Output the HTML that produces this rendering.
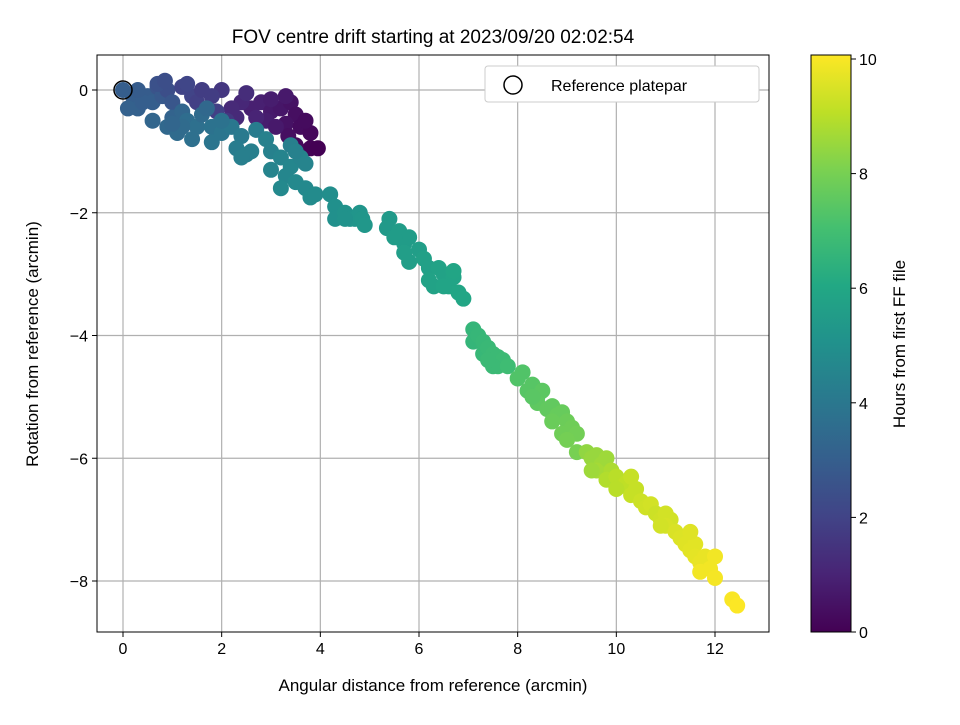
<!DOCTYPE html>
<html><head><meta charset="utf-8"><style>
body{margin:0;background:#fff;}
svg text{font-family:"Liberation Sans","DejaVu Sans",sans-serif;fill:#000;}
</style></head><body>
<svg id="chart" width="960" height="720" viewBox="0 0 960 720" xmlns="http://www.w3.org/2000/svg">
<defs><linearGradient id="vir" x1="0" y1="1" x2="0" y2="0"></linearGradient></defs>
<g id="grid"></g><g id="pts"></g><g id="axes"></g>
</svg>
<script>
const xTicks=[0,2,4,6,8,10,12];
const yTicks=[0,-2,-4,-6,-8];
const cbTicks=[0,2,4,6,8,10];
const ptX=[2.6,2.8,3.0,3.2,3.4,3.5,3.3,3.6,3.8,3.8,3.95,3.35,2.4,2.2,2.9,2.7,3.1,3.3,2.5,2.0,3.0,3.5,2.3,3.7,
0.0,0.2,0.3,0.5,0.6,0.7,0.8,0.9,0.7,0.4,1.0,1.2,1.4,1.5,1.3,1.6,1.8,1.9,2.1,1.0,0.1,0.3,0.85,1.2,
0.6,0.9,1.1,1.3,1.5,1.6,1.8,1.8,2.0,2.2,2.4,2.3,2.5,2.6,1.4,1.2,1.7,2.0,1.0,2.7,2.9,2.4,
3.0,3.2,3.4,3.3,3.6,3.5,3.2,3.7,3.8,3.9,3.0,3.4,3.7,3.5,
4.2,4.3,4.3,4.5,4.6,4.7,4.8,4.85,4.9,4.5,
5.4,5.35,5.6,5.7,5.8,5.7,5.8,6.0,6.1,6.2,6.2,6.4,6.5,6.6,6.7,6.8,6.9,6.3,5.5,6.5,6.7,
7.1,7.1,7.2,7.3,7.3,7.4,7.5,7.6,7.6,7.7,7.5,7.8,7.4,
8.0,8.1,8.2,8.3,8.4,8.5,8.4,8.6,8.7,8.8,8.9,8.7,9.0,9.1,8.9,9.2,9.0,9.2,8.3,
9.4,9.5,9.6,9.7,9.6,9.8,9.9,9.8,10.0,10.1,10.2,10.3,10.4,10.5,10.6,10.7,9.5,10.0,10.3,
10.8,10.9,11.0,11.1,11.0,11.2,10.9,11.3,11.4,11.5,11.6,11.6,11.7,11.8,11.7,11.9,12.0,12.0,12.35,12.45,11.5];
const ptY=[-0.3,-0.2,-0.35,-0.3,-0.2,-0.4,-0.55,-0.6,-0.7,-0.95,-0.95,-0.75,-0.2,-0.3,-0.5,-0.45,-0.6,-0.1,-0.05,0.0,-0.15,-0.9,-0.45,-0.5,
0.0,-0.1,-0.3,-0.1,-0.2,0.05,-0.1,0.0,0.1,-0.2,-0.2,0.05,-0.1,-0.2,0.1,0.0,-0.1,-0.35,-0.5,-0.45,-0.3,0.0,0.15,-0.35,
-0.5,-0.6,-0.7,-0.5,-0.6,-0.4,-0.6,-0.85,-0.7,-0.6,-0.75,-0.95,-1.05,-1.0,-0.8,-0.6,-0.3,-0.5,-0.55,-0.65,-0.8,-1.1,
-1.0,-1.1,-1.25,-1.4,-1.1,-1.5,-1.6,-1.6,-1.75,-1.7,-1.3,-0.9,-1.2,-1.0,
-1.7,-1.9,-2.1,-2.0,-2.1,-2.1,-2.0,-2.1,-2.2,-2.1,
-2.1,-2.25,-2.3,-2.5,-2.4,-2.65,-2.8,-2.6,-2.75,-2.9,-3.1,-2.9,-3.0,-3.2,-3.05,-3.3,-3.4,-3.2,-2.4,-3.2,-2.95,
-3.9,-4.1,-4.0,-4.1,-4.3,-4.2,-4.3,-4.35,-4.5,-4.4,-4.5,-4.5,-4.4,
-4.7,-4.6,-4.9,-4.8,-5.0,-4.9,-5.1,-5.2,-5.15,-5.3,-5.25,-5.4,-5.4,-5.5,-5.6,-5.6,-5.7,-5.9,-5.0,
-5.9,-6.0,-5.95,-6.1,-6.2,-6.0,-6.2,-6.35,-6.3,-6.45,-6.4,-6.6,-6.5,-6.7,-6.8,-6.75,-6.2,-6.5,-6.3,
-6.9,-7.0,-6.9,-7.0,-7.1,-7.2,-7.1,-7.3,-7.4,-7.5,-7.4,-7.6,-7.7,-7.6,-7.85,-7.8,-7.6,-7.95,-8.3,-8.4,-7.2];
const ptH=[0.9,0.9,0.7,0.6,0.5,0.4,0.5,0.3,0.2,0.05,0.0,0.4,1.1,1.2,0.8,1.0,0.7,0.7,1.3,1.6,0.8,0.2,1.2,0.3,
3.0,3.0,3.1,2.9,3.0,2.6,2.8,2.4,2.5,3.0,2.7,2.0,2.0,1.9,2.1,1.8,1.8,1.9,1.6,3.2,3.1,2.9,2.4,3.3,
3.3,3.4,3.5,3.6,3.7,3.5,3.8,3.9,3.9,4.0,4.1,4.2,4.3,4.3,3.7,3.5,3.4,3.8,3.3,4.2,4.4,4.3,
4.4,4.5,4.6,4.6,4.5,4.7,4.7,4.7,4.8,4.8,4.5,4.3,4.5,4.4,
4.9,5.0,5.0,5.1,5.1,5.2,5.2,5.25,5.3,5.1,
5.4,5.4,5.5,5.5,5.5,5.6,5.6,5.6,5.7,5.7,5.8,5.8,5.8,5.9,5.85,5.9,5.95,5.8,5.5,5.85,5.9,
6.6,6.6,6.65,6.7,6.7,6.75,6.8,6.8,6.85,6.85,6.8,6.9,6.8,
7.3,7.3,7.4,7.4,7.5,7.5,7.55,7.6,7.6,7.7,7.7,7.75,7.8,7.85,7.85,7.9,7.95,8.0,7.45,
8.4,8.5,8.5,8.6,8.7,8.6,8.8,8.9,9.0,9.0,9.1,9.2,9.2,9.3,9.35,9.4,8.6,9.0,9.2,
9.3,9.35,9.4,9.4,9.45,9.5,9.4,9.55,9.6,9.65,9.65,9.7,9.75,9.75,9.9,9.9,9.9,9.95,10.0,10.05,9.6];
const hMax=10.07;
const NS="http://www.w3.org/2000/svg";
const L=97,R=769,T=55,B=632;
const sx=v=>123+v*(715-123)/12;
const sy=v=>90+(-v)*(581-90)/8;
const sc=v=>632-v*(632-59)/10;
const vir=[[0,"#440154"],[0.1,"#482475"],[0.2,"#414487"],[0.3,"#355f8d"],[0.4,"#2a788e"],[0.5,"#21918c"],[0.6,"#22a884"],[0.7,"#44bf70"],[0.8,"#7ad151"],[0.9,"#bddf26"],[1,"#fde725"]];
function hex(h){return [1,3,5].map(i=>parseInt(h.substr(i,2),16));}
function cmap(t){t=Math.max(0,Math.min(1,t));for(let i=1;i<vir.length;i++){if(t<=vir[i][0]){const a=vir[i-1],b=vir[i];const f=(t-a[0])/(b[0]-a[0]);const A=hex(a[1]),Bc=hex(b[1]);return "rgb("+A.map((c,k)=>Math.round(c+(Bc[k]-c)*f)).join(",")+")";}}return vir[10][1];}
function mk(tag,attrs,parent,txt){const e=document.createElementNS(NS,tag);for(const k in attrs)e.setAttribute(k,attrs[k]);if(txt!==undefined)e.textContent=txt;parent.appendChild(e);return e;}
const svg=document.getElementById('chart'),grid=document.getElementById('grid'),pts=document.getElementById('pts'),axes=document.getElementById('axes');
const grad=document.getElementById('vir');
vir.forEach(s=>mk('stop',{offset:s[0],'stop-color':s[1]},grad));
xTicks.forEach(v=>{const x=sx(v);
 const g=mk('line',{x1:x,x2:x,y1:T,y2:B,stroke:'#b0b0b0','stroke-width':1.2},grid);
 const t=mk('line',{x1:x,x2:x,y1:B,y2:B+5,stroke:'#000'},axes);
 const l=mk('text',{x:x,y:B+22,'text-anchor':'middle','font-size':16},axes,String(v));});
yTicks.forEach(v=>{const y=sy(v);
 const g=mk('line',{x1:L,x2:R,y1:y,y2:y,stroke:'#b0b0b0','stroke-width':1.2},grid);
 const t=mk('line',{x1:L-5,x2:L,y1:y,y2:y,stroke:'#000'},axes);
 const l=mk('text',{x:L-9,y:y+6,'text-anchor':'end','font-size':16},axes,(v<0?'\u2212'+(-v):String(v)));});
for(let i=0;i<ptX.length;i++){const c=mk('circle',{cx:sx(ptX[i]),cy:sy(ptY[i]),r:8,fill:cmap(ptH[i]/hMax)},pts);}
const ref=mk('circle',{cx:sx(0),cy:sy(0),r:9,fill:'none',stroke:'#000','stroke-width':1.5},pts);
const fr=mk('rect',{x:L,y:T,width:R-L,height:B-T,fill:'none',stroke:'#000','stroke-width':1},axes);
const ti=mk('text',{x:433,y:43,'text-anchor':'middle','font-size':19},axes,'FOV centre drift starting at 2023/09/20 02:02:54');
const xl=mk('text',{x:433,y:691,'text-anchor':'middle','font-size':17},axes,'Angular distance from reference (arcmin)');
const yl=mk('text',{x:0,y:0,'text-anchor':'middle','font-size':17,transform:'translate(38,344) rotate(-90)'},axes,'Rotation from reference (arcmin)');
const lg=mk('g',{},axes);
mk('rect',{x:485,y:66,width:274,height:36,rx:3,fill:'#fff',stroke:'#ccc'},lg);
mk('circle',{cx:513,cy:85,r:9,fill:'none',stroke:'#000','stroke-width':1.5},lg);
const lt=mk('text',{x:551,y:91,'font-size':16},lg,'Reference platepar');
const cb=mk('rect',{x:811,y:55,width:40,height:577,fill:'url(#vir)',stroke:'#000','stroke-width':1},axes);
cbTicks.forEach(v=>{const y=sc(v);
 const t=mk('line',{x1:851,x2:856,y1:y,y2:y,stroke:'#000'},axes);
 const l=mk('text',{x:859,y:y+6,'font-size':16},axes,String(v));});
const cl=mk('text',{x:0,y:0,'text-anchor':'middle','font-size':17,transform:'translate(905,344) rotate(-90)'},axes,'Hours from first FF file');
</script>
</body></html>
